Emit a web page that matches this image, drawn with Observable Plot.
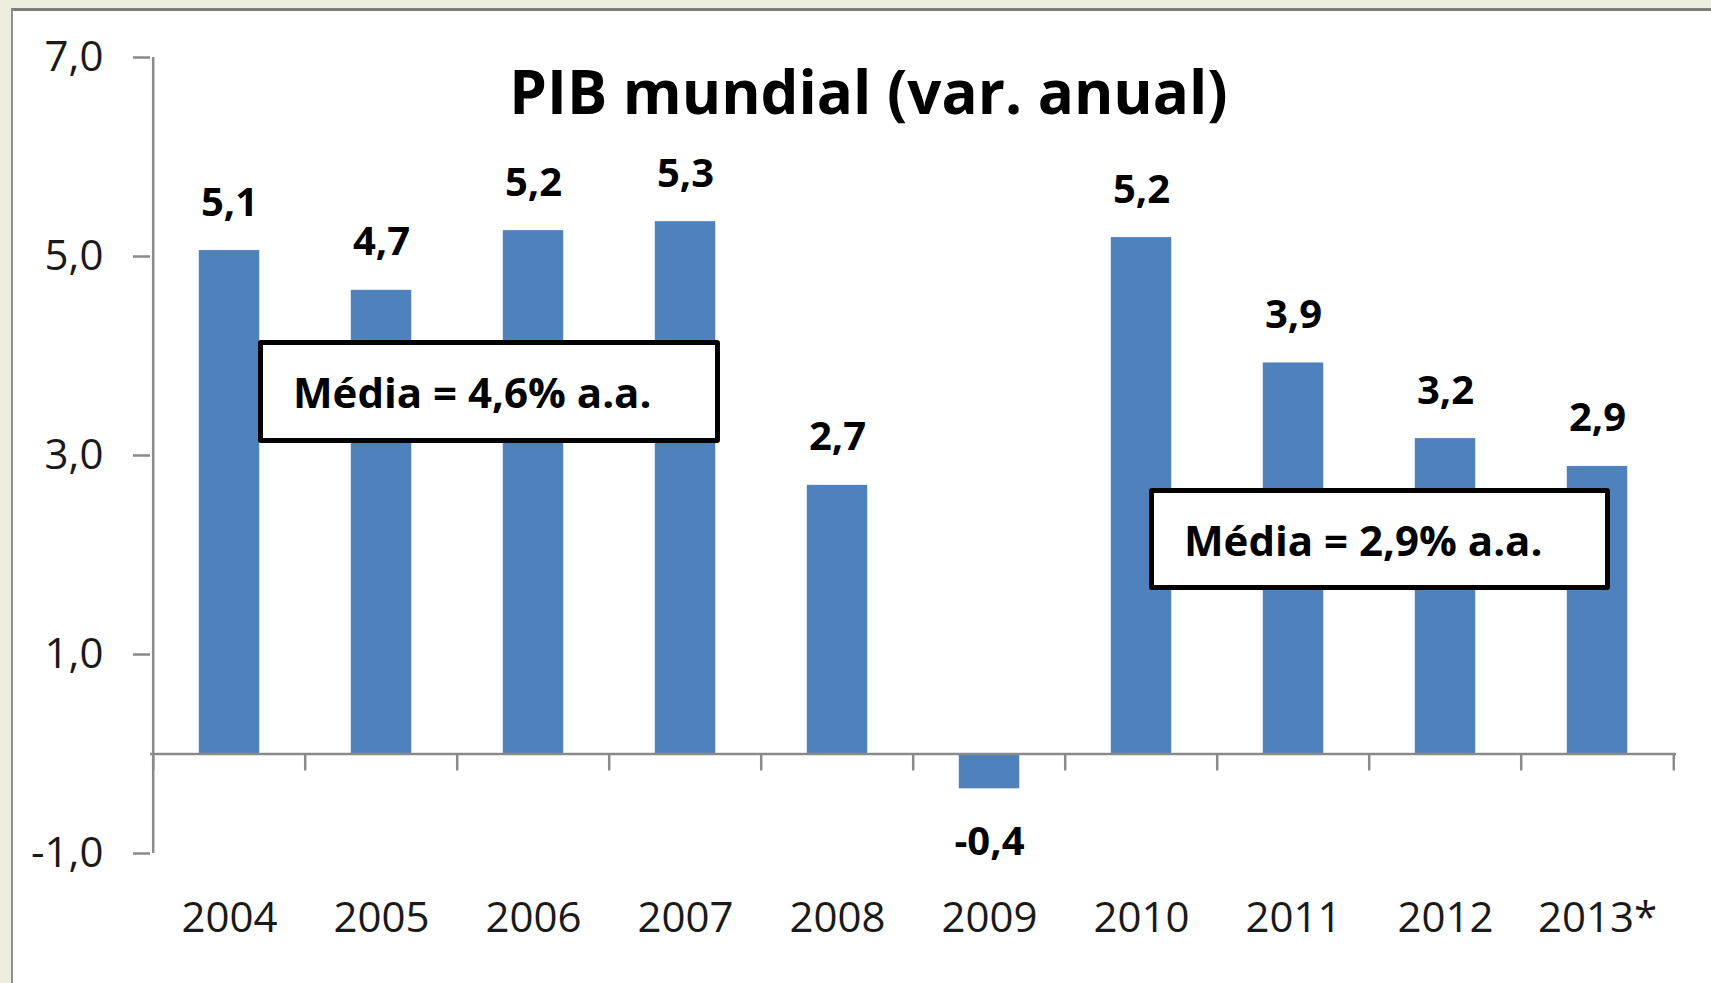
<!DOCTYPE html>
<html><head><meta charset="utf-8">
<script src="https://cdn.jsdelivr.net/npm/d3@7"></script>
<script src="https://cdn.jsdelivr.net/npm/@observablehq/plot@0.6"></script>
<style>
html,body{margin:0;padding:0;background:#EEECDD;width:1711px;height:983px;overflow:hidden;font-family:"Open Sans",sans-serif;}
#panel{position:absolute;left:11px;top:8px;right:0;bottom:0;background:#fff;border-top:3px solid #7d7d7d;border-left:2px solid #8f8f8f;}
#chart{position:absolute;left:0;top:0;}
.box{position:absolute;border:5px solid #000;border-radius:3px;background:#fff;font-weight:700;font-size:42px;color:#000;box-sizing:border-box;display:flex;align-items:center;padding-left:30px;white-space:nowrap;}
</style></head><body>
<div id="panel"></div>
<div id="chart"></div>
<div class="box" id="box1" style="left:258px;top:340px;width:462px;height:103px;"></div>
<div class="box" id="box2" style="left:1149px;top:488px;width:461px;height:102px;"></div>
<script>
const years = ["2004","2005","2006","2007","2008","2009","2010","2011","2012","2013*"];
const growth = [5.06,4.66,5.26,5.35,2.70,-0.35,5.19,3.93,3.17,2.89];
const valueLabels = ["5,1","4,7","5,2","5,3","2,7","-0,4","5,2","3,9","3,2","2,9"];
const yTicks = [-1,1,3,5,7];
const title = "PIB mundial (var. anual)";
const averages = ["Média = 4,6% a.a.","Média = 2,9% a.a."];

const W=1711,H=983, ml=150, mr=35, mt=57, mb=130;
const step=(W-ml-mr)/years.length;
const fmt = v => v.toFixed(1).replace(".", ",");
const data = years.map((y,i)=>({year:y, value:growth[i], label:valueLabels[i]}));
const axisColor = "#8a8a8a";

const plot = Plot.plot({
  width:W, height:H, marginLeft:ml, marginRight:mr, marginTop:mt, marginBottom:mb,
  style:{background:"transparent", fontFamily:"'Open Sans', sans-serif", fontSize:"42px", color:"#1a1a1a", overflow:"visible"},
  x:{domain:years, padding:0, label:null},
  y:{domain:[-1,7], label:null},
  marks:[
    Plot.barY(data,{x:"year", y:"value", fill:"#4F81BD", insetLeft:step*0.3, insetRight:step*0.3}),
    Plot.ruleY([0],{stroke:axisColor, strokeWidth:2.5}),
    Plot.ruleX(years,{x:d=>d, y1:0, y2:0, dx:-step/2, insetBottom:-17, stroke:axisColor, strokeWidth:2.5}),
    Plot.ruleX([years[years.length-1]],{x:d=>d, y1:0, y2:0, dx:step/2, insetBottom:-17, stroke:axisColor, strokeWidth:2.5}),
    Plot.ruleX([years[0]],{x:d=>d, dx:-step/2, stroke:axisColor, strokeWidth:2.5}),
    Plot.axisY({ticks:yTicks, tickSize:17, tickPadding:30, tickFormat:fmt, stroke:axisColor, strokeWidth:2.5, fontSize:42, label:null}),
    Plot.axisX({tickSize:0, tickPadding:49, fontSize:42, label:null}),
    Plot.text(data.filter(d=>d.value>=0), {x:"year", y:"value", text:"label", lineAnchor:"bottom", dy:-35, fontWeight:"bold", fontSize:40, fill:"#000"}),
    Plot.text(data.filter(d=>d.value<0), {x:"year", y:"value", text:"label", lineAnchor:"bottom", dy:66, fontWeight:"bold", fontSize:40, fill:"#000"}),
    Plot.text([title], {frameAnchor:"top", dx:-45, dy:56, lineAnchor:"bottom", fontWeight:"bold", fontSize:60, fill:"#000"})
  ]
});
document.getElementById("chart").appendChild(plot);
document.getElementById("box1").textContent = averages[0];
document.getElementById("box2").textContent = averages[1];
</script>
</body></html>
